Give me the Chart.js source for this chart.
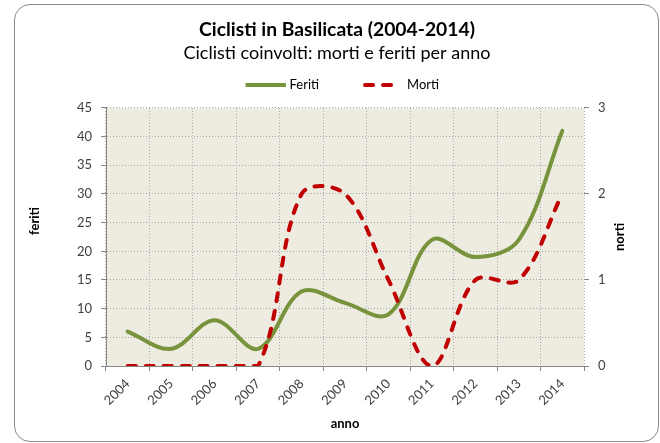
<!DOCTYPE html>
<html>
<head>
<meta charset="utf-8">
<script src="https://cdn.jsdelivr.net/npm/chart.js@4/dist/chart.umd.min.js"></script>
<style>
  html, body { margin: 0; padding: 0; background: #fff; }
  #wrap { position: relative; width: 660px; height: 443px; }
  #frame { position: absolute; left: 14px; top: 4px; width: 645px; height: 438px; box-sizing: border-box;
           border: 1px solid #8a8a8a; border-radius: 16px; pointer-events: none; }
  canvas { position: absolute; left: 0; top: 0; }
</style>
</head>
<body>
<div id="wrap">
  <canvas id="c" width="660" height="443"></canvas>
  <div id="frame"></div>
</div>
<script>
// ---- data ----
const years = ['2004','2005','2006','2007','2008','2009','2010','2011','2012','2013','2014'];
const feriti = [6, 3, 8, 3, 13, 11, 9, 22, 19, 22, 41];
const morti  = [0, 0, 0, 0, 2, 2, 1, 0, 1, 1, 2];
const feritiTicks = [0, 5, 10, 15, 20, 25, 30, 35, 40, 45];
const mortiTicks = [0, 1, 2, 3];

const GREEN = '#77933C';
const RED = '#C00000';
const GRID = '#a6a6a6';
const AXIS = '#868686';

Chart.defaults.font.family = 'Lato, "Open Sans", sans-serif';
Chart.defaults.color = '#404040';

function legendMarker(color, dash) {
  const c = document.createElement('canvas');
  c.width = 53; c.height = 6;
  const g = c.getContext('2d');
  g.strokeStyle = color;
  g.lineWidth = 4;
  g.lineCap = dash ? 'round' : 'butt';
  g.setLineDash(dash || []);
  g.beginPath();
  g.moveTo(dash ? 15 : 13, 3);
  g.lineTo(dash ? 51 : 53, 3);
  g.stroke();
  return c;
}
const markers = [legendMarker(GREEN, null), legendMarker(RED, [8, 10])];

const bgPlugin = {
  id: 'plotBg',
  beforeDraw(chart) {
    const a = chart.chartArea, ctx = chart.ctx;
    ctx.save();
    ctx.fillStyle = '#EEECE1';
    ctx.fillRect(a.left, a.top, a.right - a.left, a.bottom - a.top);
    ctx.restore();
  },
  afterDraw(chart) {
    const ctx = chart.ctx;
    [['feriti', 35, 221], ['norti', 620, 237]].forEach(([t, x, y]) => {
      ctx.save();
      ctx.font = 'bold 13px Lato, sans-serif';
      ctx.fillStyle = '#000';
      ctx.textAlign = 'center';
      ctx.textBaseline = 'middle';
      ctx.translate(x, y);
      ctx.rotate(-Math.PI / 2);
      ctx.fillText(t, 0, 0);
      ctx.restore();
    });
  }
};

const spacerPlugin = {
  id: 'spacer',
  beforeInit(chart) {
    const box = {
      position: 'top', weight: 500, fullSize: true, options: {},
      top: 0, left: 0, right: 0, bottom: 0, width: 0, height: 0,
      update(maxWidth) { this.width = maxWidth; this.height = 6.5; },
      isHorizontal() { return true; },
      getPadding() { return { top: 0, left: 0, right: 0, bottom: 0 }; },
      draw() {}
    };
    Chart.layouts.addBox(chart, box);
  }
};

new Chart(document.getElementById('c'), {
  type: 'line',
  data: {
    labels: years,
    datasets: [
      {
        label: 'Feriti', data: feriti, yAxisID: 'y',
        borderColor: GREEN, backgroundColor: GREEN, borderWidth: 4,
        pointRadius: 0, tension: 0.35, fill: false, order: 1,
        borderCapStyle: 'round'
      },
      {
        label: 'Morti', data: morti, yAxisID: 'y1',
        borderColor: RED, backgroundColor: RED, borderWidth: 4,
        borderDash: [8, 10], borderCapStyle: 'round',
        pointRadius: 0, tension: 0.35, fill: false, order: 0
      }
    ]
  },
  options: {
    responsive: false,
    animation: false,
    devicePixelRatio: 1,
    layout: { padding: { left: 14, right: 0, top: 0, bottom: 0 } },
    plugins: {
      title: {
        display: true, text: 'Ciclisti in Basilicata (2004-2014)', color: '#000',
        font: { size: 19.3, weight: 'bold', lineHeight: 1.2 },
        padding: { top: 18.4, bottom: 0 }
      },
      subtitle: {
        display: true, text: 'Ciclisti coinvolti: morti e feriti per anno', color: '#000',
        font: { size: 18, weight: 'normal', lineHeight: 1.2 },
        padding: { top: 0.6, bottom: -18.8 }
      },
      legend: {
        display: true, position: 'top',
        labels: {
          usePointStyle: true, pointStyleWidth: 48, padding: 33.5,
          color: '#000', font: { size: 13 },
          sort: (a, b) => a.datasetIndex - b.datasetIndex,
          generateLabels(chart) {
            const items = Chart.defaults.plugins.legend.labels.generateLabels(chart);
            items.forEach((it) => { it.pointStyle = markers[it.datasetIndex]; });
            return items;
          }
        }
      },
      tooltip: { enabled: false }
    },
    scales: {
      x: {
        type: 'category', offset: true,
        grid: { offset: true, color: GRID, lineWidth: 1,
                tickLength: 5, tickColor: AXIS, tickBorderDash: [], tickWidth: 1 },
        border: { display: true, color: AXIS, width: 1, dash: [1, 2] },
        ticks: { autoSkip: false, minRotation: 45, maxRotation: 45, padding: 5,
                 font: { size: 13 }, color: '#404040' },
        title: { display: true, text: 'anno', color: '#000', font: { size: 13, weight: 'bold', lineHeight: 1.2 },
                 padding: { top: 0, bottom: 11.2 } },
        afterFit(s) { s.height = 77; }
      },
      y: {
        position: 'left', min: 0, max: 45,
        afterBuildTicks(s) { s.ticks = feritiTicks.map(v => ({ value: v })); },
        grid: { color: GRID, lineWidth: 1,
                tickLength: 5, tickColor: AXIS, tickBorderDash: [], tickWidth: 1 },
        border: { display: true, color: AXIS, width: 1, dash: [1, 2] },
        ticks: { padding: 9, font: { size: 13 }, color: '#404040' },
        afterFit(s) { s.width = 92; }
      },
      y1: {
        position: 'right', min: 0, max: 3,
        afterBuildTicks(s) { s.ticks = mortiTicks.map(v => ({ value: v })); },
        grid: { drawOnChartArea: false, tickLength: 5, tickColor: AXIS, tickBorderDash: [], tickWidth: 1, color: AXIS },
        border: { display: false },
        ticks: { padding: 9, font: { size: 13 }, color: '#404040' },
        afterFit(s) { s.width = 76; }
      }
    }
  },
  plugins: [bgPlugin, spacerPlugin]
});
</script>
</body>
</html>
